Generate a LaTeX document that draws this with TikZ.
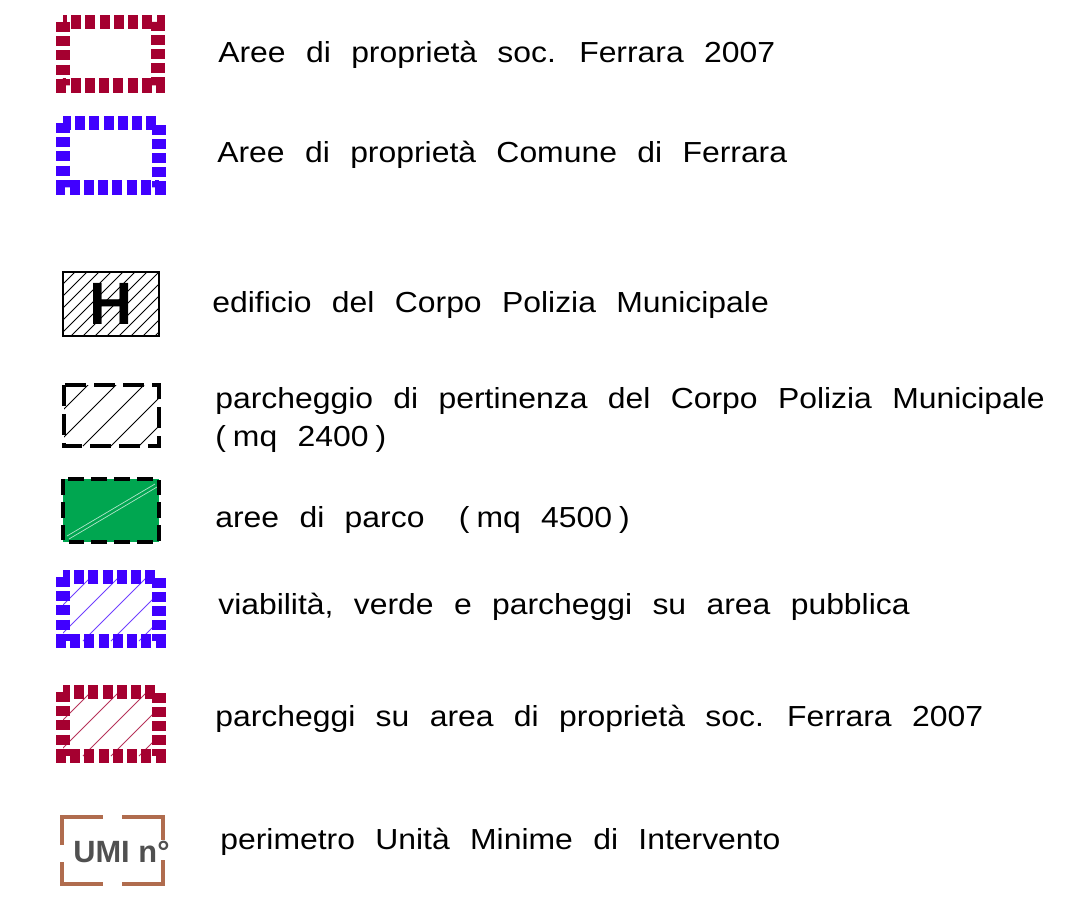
\documentclass[tikz,border=0pt]{standalone}
\usepackage{fontspec}
\setmainfont{Liberation Sans}[WordSpace=2.3, FakeStretch=1.1]
\newfontfamily\umifont{Liberation Sans}
\usetikzlibrary{positioning}

\definecolor{ferred}{RGB}{165,0,48}
\definecolor{comblue}{RGB}{64,0,255}
\definecolor{parkgreen}{RGB}{0,166,80}
\definecolor{umibrown}{RGB}{176,108,78}
\definecolor{umigray}{RGB}{80,80,80}

\begin{document}
\begin{tikzpicture}[x=0.02cm, y=-0.02cm,
  lab/.style={anchor=base west, inner sep=0pt, font=\fontsize{16.5}{19}\selectfont},
  ferborder/.style={draw=ferred, line width=8pt, dash pattern=on 5.7pt off 2.4pt},
  comborder/.style={draw=comblue, line width=8pt, dash pattern=on 5.7pt off 2.4pt},
  hatchline/.style={line width=0.5pt}]

\useasboundingbox (0,0) rectangle (1091,898);

% Aree soc. Ferrara 2007
\draw[ferborder] (63,22) rectangle (158,85.5);
\node[lab] (lab1) at (218,63) {Aree di proprietà soc. Ferrara 2007};

% Aree Comune di Ferrara
\draw[comborder] (63,123) rectangle (159,187.5);
\node[lab] (lab2) at (217,163) {Aree di proprietà Comune di Ferrara};

% Polizia Municipale building
\begin{scope}
  \clip (63,272) rectangle (159,336);
  \foreach \x in {0,12,...,168}
    \draw[hatchline] (\x-1,336) -- ++(64,-64);
\end{scope}
\draw[line width=0.8pt] (63,272) rectangle (159,336);
\node[font=\umifont\fontsize{34}{34}\selectfont\bfseries, inner sep=0pt] (hbox) at (111,304) {H};
\node[lab] (lab3) at (212,313) {edificio del Corpo Polizia Municipale};

% parking of the Polizia Municipale
\begin{scope}
  \clip (64,385) rectangle (159,446);
  \foreach \x in {0,28,...,168}
    \draw[hatchline] (\x-1,446) -- ++(64,-64);
\end{scope}
\draw[line width=1.8pt, dash pattern=on 12pt off 4.5pt] (64,385) rectangle (159,446);
\node[lab] (lab4) at (215,408) {parcheggio di pertinenza del Corpo Polizia Municipale};
\node[lab] (lab4b) at (215,446) {(\kern4pt mq 2400\kern4pt)};

% park
\fill[parkgreen] (63,479) rectangle (159,542);
\draw[white!70!parkgreen, line width=0.4pt] (67,536) -- (155,484);
\draw[white!70!parkgreen, line width=0.4pt] (69,539) -- (157,487);
\draw[line width=2.4pt, dash pattern=on 9pt off 4pt] (63,479) rectangle (159,542);
\node[lab] (lab5) at (215,527) {aree di parco \hspace{8pt}(\kern4pt mq 4500\kern4pt)};

% public roads, green and parking
\begin{scope}
  \clip (63,577) rectangle (159,641);
  \foreach \x in {0,28,...,168}
    \draw[hatchline, comblue!75] (\x-1,641) -- ++(64,-64);
\end{scope}
\draw[comborder] (63,577) rectangle (159,641);
\node[lab] (lab6) at (218,614) {viabilità, verde e parcheggi su area pubblica};

% parking on soc. Ferrara 2007 land
\begin{scope}
  \clip (63,692) rectangle (159,756);
  \foreach \x in {0,28,...,168}
    \draw[hatchline, ferred!80] (\x-1,756) -- ++(64,-64);
\end{scope}
\draw[ferborder] (63,692) rectangle (159,756);
\node[lab] (lab7) at (215,726) {parcheggi su area di proprietà soc. Ferrara 2007};

% UMI perimeter
\draw[umibrown, line width=2.8pt] (62,845) -- (62,817) -- (103,817);
\draw[umibrown, line width=2.8pt] (122,817) -- (163,817) -- (163,840);
\draw[umibrown, line width=2.8pt] (62,862) -- (62,884) -- (103,884);
\draw[umibrown, line width=2.8pt] (122,884) -- (163,884) -- (163,860);
\node[anchor=base west, inner sep=0pt, text=umigray, font=\umifont\fontsize{17.5}{17.5}\selectfont\bfseries] (umi) at (73,862) {UMI\kern5pt n°};
\node[lab] (lab8) at (220,849) {perimetro Unità Minime di Intervento};

\end{tikzpicture}
\end{document}
